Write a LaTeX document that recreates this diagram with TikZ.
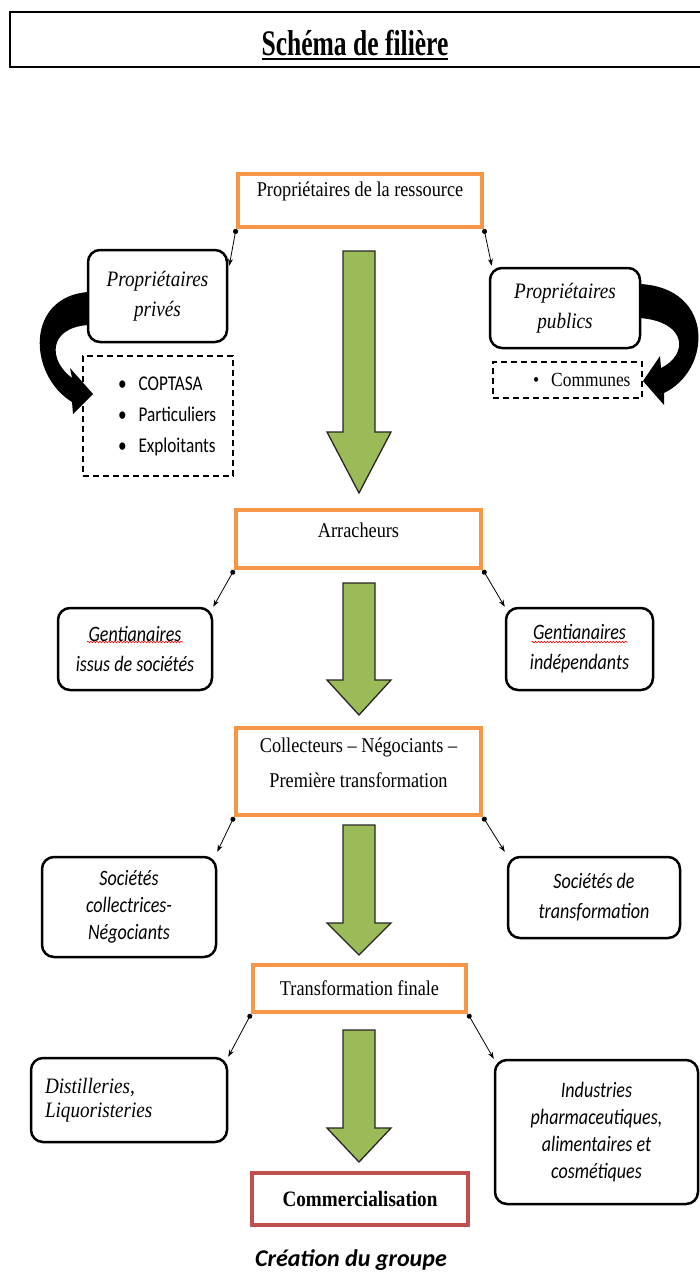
\documentclass[tikz,border=0pt]{standalone}
\usepackage{fontspec}
\setmainfont{Liberation Serif}
\newfontfamily\narrowserif[FakeStretch=0.87]{Liberation Serif}
\newfontfamily\titleserif[FakeStretch=0.71]{Liberation Serif}
\newfontfamily\narrowsans[FakeStretch=0.82]{Carlito}
\newfontfamily\calib{Carlito}
\usetikzlibrary{arrows.meta,calc,decorations.pathmorphing}
\definecolor{stageorange}{HTML}{F79646}
\definecolor{flowgreen}{HTML}{9BBB59}
\definecolor{marketred}{HTML}{C0504D}
\newcommand{\flowarrow}[3]{%
  \draw[flow] (343,#1) -- (375,#1) -- (375,#2) -- (391,#2) -- (359,#3) -- (327,#2) -- (343,#2) -- cycle;}
\newcommand{\titleline}[1]{\setbox0\hbox{#1}\rlap{\rule[-4.5pt]{\wd0}{2pt}}\box0}
\begin{document}
\begin{tikzpicture}[x=1pt, y=-1pt,
  stage/.style={draw=stageorange, line width=4pt, fill=white, inner sep=0pt, align=center,
    font=\fontsize{21}{35}\selectfont\narrowserif},
  actor/.style={draw, line width=2.5pt, rounded corners=12pt, inner sep=0pt, align=center,
    font=\fontsize{22}{28}\selectfont\narrowsans\itshape},
  owner/.style={actor, font=\fontsize{22}{30}\selectfont\narrowserif\itshape},
  members/.style={draw, dash pattern=on 6pt off 4pt, line width=1.2pt, inner sep=0pt},
  link/.style={arrows={Circle[length=5pt]-Stealth[length=7pt,width=5pt]}, line width=0.8pt},
  flow/.style={draw=black!85, line width=1.3pt, fill=flowgreen, line join=miter},
  spell/.style={draw=red, line width=0.6pt, decorate, decoration={snake, amplitude=0.8pt, segment length=3pt}}]
\useasboundingbox (0,0) rectangle (699,1281);

\node[draw, line width=1.8pt, minimum width=700pt, minimum height=55pt, inner sep=0pt, text height=36pt,
  font=\fontsize{36}{38}\selectfont\titleserif\bfseries] (title) at (360,39.5) {\titleline{Schéma de filière}\hspace*{10pt}};

\node[stage, minimum width=244pt, minimum height=53pt, text height=14pt, text depth=21pt] (own) at (360,200.5) {Propriétaires de la ressource};
\node[owner, minimum width=139pt, minimum height=92pt] (privat) at (157.5,296) {Propriétaires\\privés};
\node[members, minimum width=150pt, minimum height=120pt, text width=120pt, align=left,
  font=\fontsize{21}{31}\selectfont\narrowsans] (privlist) at (158,416)
  {\hspace*{20pt}\textbullet\hspace{12pt}COPTASA\\\hspace*{20pt}\textbullet\hspace{12pt}Particuliers\\\hspace*{20pt}\textbullet\hspace{12pt}Exploitants};
\node[owner, minimum width=150pt, minimum height=80pt] (public) at (565,308) {Propriétaires\\publics};
\node[members, minimum width=149pt, minimum height=36pt, text width=126pt, align=right,
  font=\fontsize{20}{24}\selectfont\narrowserif] (publist) at (567.5,380) {\textbullet\hspace{12pt}Communes};
\draw[link] (own.south west) -- ($(privat.north east)+(1,17)$);
\draw[link] (own.south east) -- ($(public.north west)+(3,-1)$);
\fill (88,292) .. controls (25,297) and (28,375) .. (72,402) -- (73,414) -- (93,394) -- (70,368) -- (72,378) .. controls (48,360) and (48,328) .. (88,325) -- cycle;
\fill (640,284) .. controls (715,288) and (712,370) .. (664,393) -- (664,405) -- (643,381) -- (660,356) -- (661,368) .. controls (688,355) and (688,322) .. (640,318) -- cycle;
\flowarrow{251}{432}{493}

\node[stage, minimum width=245pt, minimum height=58pt, text height=14pt, text depth=18pt] (pull) at (358.5,539) {Arracheurs};
\node[actor, minimum width=154pt, minimum height=82pt, font=\fontsize{22}{30}\selectfont\narrowsans\itshape] (gentL) at (135,649) {Gentianaires\\issus de sociétés};
\node[actor, minimum width=147pt, minimum height=82pt, font=\fontsize{22}{30}\selectfont\narrowsans\itshape] (gentR) at (579.5,649) {Gentianaires\\indépendants};
\draw[spell] ($(gentL.center)+(-48,-7)$) -- ++(96,0);
\draw[spell] ($(gentR.center)+(-48,-7)$) -- ++(96,0);
\draw[link] (pull.south west) -- (gentL.north east);
\draw[link] (pull.south east) -- (gentR.north west);
\flowarrow{583}{680}{715}

\node[stage, minimum width=245pt, minimum height=87pt, text depth=18pt] (collect) at (358.5,771.5) {Collecteurs – Négociants –\\Première transformation};
\node[actor, minimum width=174pt, minimum height=100pt, font=\fontsize{22}{27}\selectfont\narrowsans\itshape] (socL) at (129,907) {Sociétés\\collectrices-\\Négociants};
\node[actor, minimum width=172pt, minimum height=81pt, font=\fontsize{22}{30}\selectfont\narrowsans\itshape] (socR) at (594,897.5) {Sociétés de\\transformation};
\draw[link] (collect.south west) -- ($(socL.north east)+(0,-4)$);
\draw[link] (collect.south east) -- ($(socR.north west)+(-2,-4)$);
\flowarrow{825}{923}{955}

\node[stage, minimum width=213pt, minimum height=47pt] (final) at (359.5,988.5) {Transformation finale};
\node[owner, minimum width=196pt, minimum height=84pt, text width=168pt, align=left,
  font=\fontsize{22}{24}\selectfont\narrowserif\itshape] (distil) at (129,1100) {Distilleries,\\Liquoristeries};
\node[actor, minimum width=203pt, minimum height=144pt, font=\fontsize{22}{27}\selectfont\narrowsans\itshape] (indus) at (596.5,1132) {Industries\\pharmaceutiques,\\alimentaires et\\cosmétiques};
\draw[link] (final.south west) -- (distil.north east);
\draw[link] (final.south east) -- (indus.north west);
\flowarrow{1030}{1128}{1162}

\node[stage, draw=marketred, minimum width=216pt, minimum height=52pt,
  font=\fontsize{22}{24}\selectfont\narrowserif\bfseries] (market) at (360,1199) {Commercialisation};
\node[font=\fontsize{24}{28}\selectfont\calib\bfseries\itshape] (credit) at (351,1260) {Création du groupe};
\end{tikzpicture}
\end{document}
